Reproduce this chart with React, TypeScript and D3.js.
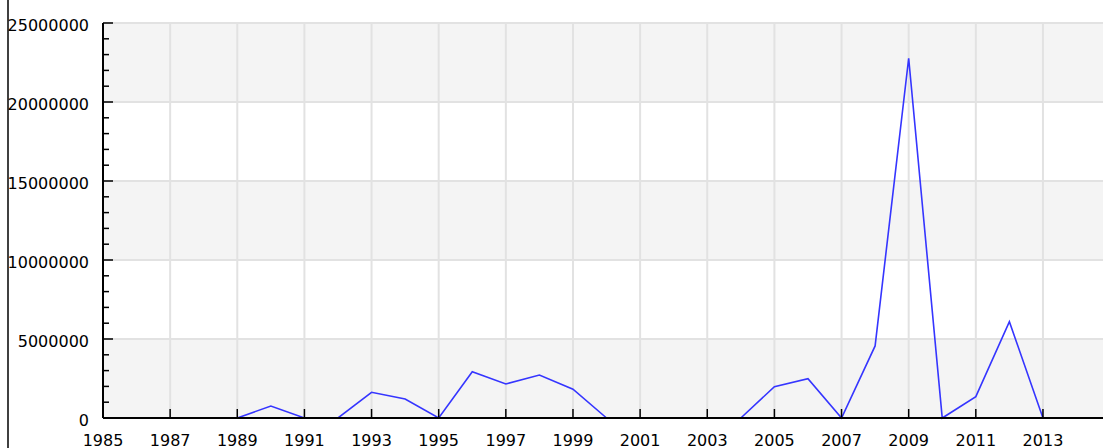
import React from "react";
import { scaleLinear, line, range } from "d3";

const width = 1103;
const height = 448;
const margin = { top: 23, right: 0, bottom: 30, left: 103 };

const innerWidth = width - margin.left - margin.right;
const innerHeight = height - margin.top - margin.bottom;

const years = range(1985, 2014);
// null = no data for that year
const values: (number | null)[] = [
  null, null, null, null, // 1985-1988
  0, 760000, 0, // 1989-1991
  0, 1630000, 1200000, 0, 2930000, 2150000, 2720000, 1820000, 0, // 1992-2000
  null, null, null, // 2001-2003
  0, 1980000, 2490000, 0, 4560000, 22770000, 0, 1350000, 6100000, 0, // 2004-2013
];
const xTicks = range(1985, 2014, 2);
const yTicks = [0, 5000000, 10000000, 15000000, 20000000, 25000000];
const yMinorTicks = range(0, 25000001, 1000000);

const data = years.map((year, i) => ({ year, value: values[i] }));

const font = "DejaVu Sans, Verdana, sans-serif";

export default function App() {
  const xScale = scaleLinear()
    .domain([1985, 2015])
    .range([0, 33.57 * 30]);
  const yScale = scaleLinear().domain([0, 25000000]).range([innerHeight, 0]);

  const path = line<{ year: number; value: number | null }>()
    .defined((d) => d.value !== null)
    .x((d) => xScale(d.year))
    .y((d) => yScale(d.value as number))(data);

  return (
    <svg
      width={width}
      height={height}
      style={{ position: "absolute", left: 0, top: 0, background: "#fff" }}
    >
      <line x1={8} x2={8} y1={0} y2={height} stroke="#000" strokeWidth={1.5} />
      <g transform={`translate(${margin.left},${margin.top})`}>
        {/* alternating bands */}
        {yTicks.slice(0, -1).map((t, i) => (
          <rect
            key={t}
            x={0}
            y={yScale(t + 5000000)}
            width={innerWidth}
            height={yScale(t) - yScale(t + 5000000)}
            fill={i % 2 === 0 ? "#f4f4f4" : "#ffffff"}
          />
        ))}
        {yTicks.map((t) => (
          <line
            key={t}
            x1={0}
            x2={innerWidth}
            y1={yScale(t)}
            y2={yScale(t)}
            stroke="#e2e2e2"
            strokeWidth={2}
          />
        ))}
        {xTicks.map((t) => (
          <line
            key={t}
            x1={xScale(t)}
            x2={xScale(t)}
            y1={0}
            y2={innerHeight}
            stroke="#e2e2e2"
            strokeWidth={2}
          />
        ))}
        <path d={path ?? ""} fill="none" stroke="#3535ff" strokeWidth={1.6} />
        {/* axes */}
        <line x1={0} x2={0} y1={0} y2={innerHeight} stroke="#000" strokeWidth={2} />
        <line x1={0} x2={innerWidth} y1={innerHeight} y2={innerHeight} stroke="#000" strokeWidth={2} />
        {yMinorTicks.map((t) => (
          <line
            key={t}
            x1={0}
            x2={t % 5000000 === 0 ? 10 : 6}
            y1={yScale(t)}
            y2={yScale(t)}
            stroke="#000"
            strokeWidth={1.5}
          />
        ))}
        {xTicks.map((t) => (
          <line
            key={t}
            x1={xScale(t)}
            x2={xScale(t)}
            y1={innerHeight}
            y2={innerHeight - 9}
            stroke="#000"
            strokeWidth={1.5}
          />
        ))}
        {yTicks.map((t) => (
          <text
            key={t}
            x={-14}
            y={yScale(t) + 2}
            dy=".35em"
            textAnchor="end"
            fontFamily={font}
            fontSize={16}
            fill="#000"
          >
            {t}
          </text>
        ))}
        {xTicks.map((t) => (
          <text
            key={t}
            x={xScale(t)}
            y={innerHeight + 28}
            textAnchor="middle"
            fontFamily={font}
            fontSize={16}
            fill="#000"
          >
            {t}
          </text>
        ))}
      </g>
    </svg>
  );
}
